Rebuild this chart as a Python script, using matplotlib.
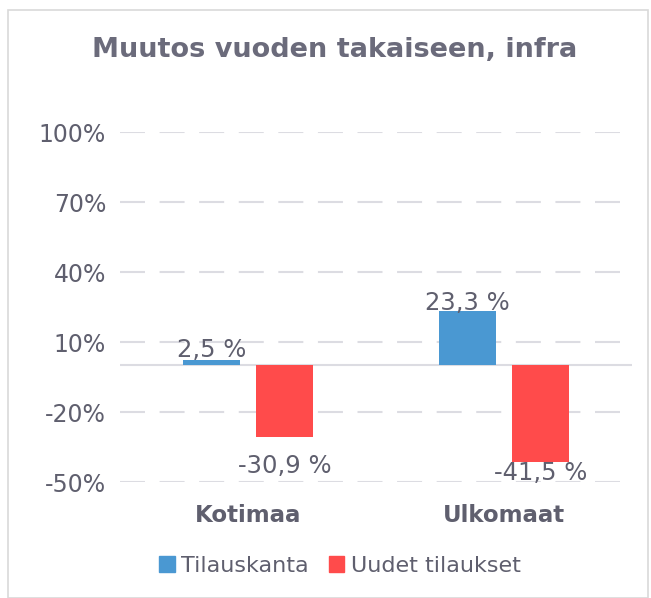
import matplotlib
matplotlib.use("Agg")
import matplotlib.pyplot as plt
from matplotlib.patches import Rectangle, Patch
import numpy as np

categories = ["Kotimaa", "Ulkomaat"]
series_names = ["Tilauskanta", "Uudet tilaukset"]
tilauskanta = [2.5, 23.3]
uudet = [-30.9, -41.5]
value_labels = [["2,5 %", "23,3 %"], ["-30,9 %", "-41,5 %"]]
yticks = [-50, -20, 10, 40, 70, 100]
ytick_labels = ["-50%", "-20%", "10%", "40%", "70%", "100%"]

colors = ["#4a98d2", "#ff4b4b"]
text_color = "#5f5f6e"
title_color = "#6b6b7b"
grid_color = "#dcdce2"

plt.rcParams['font.family'] = ['DejaVu Sans']

fig = plt.figure(figsize=(6.51, 5.98), dpi=100)
fig.patches.append(Rectangle((8/651, 0), 640/651, 1 - 10/598, transform=fig.transFigure,
                             fill=False, edgecolor="#d9d9d9", linewidth=1.2))

ax = fig.add_axes([120/651, 1 - 482/598, 512/651, 350/598])
x = np.arange(len(categories))
width = 0.223
offset = 0.143
series = [tilauskanta, uudet]
# label offsets in pixels (positive = up)
label_offsets = [[9, 8], [-29, -11]]
for i, vals in enumerate(series):
    pos = x + (-offset if i == 0 else offset)
    ax.bar(pos, vals, width=width, color=colors[i], zorder=3)
    for j, v in enumerate(vals):
        ax.annotate(value_labels[i][j], xy=(pos[j], v), xytext=(0, label_offsets[i][j] * 0.72),
                    textcoords="offset points", ha="center", va="center",
                    fontsize=17.5, color=text_color, zorder=4)

ax.set_xlim(-0.5, 1.5)
ax.set_ylim(-50, 100)
ax.set_yticks(yticks)
ax.set_yticklabels(ytick_labels, fontsize=17, color=text_color)
for t in yticks:
    ax.axhline(t, color=grid_color, linewidth=1.5, linestyle=(0, (12, 7)), zorder=1)
ax.axhline(0, color=grid_color, linewidth=1.5, zorder=2)
ax.set_xticks(x)
ax.set_xticklabels(categories, fontsize=16.5, fontweight="bold", color=text_color)
ax.tick_params(axis="both", length=0)
ax.tick_params(axis="x", pad=16)
ax.tick_params(axis="y", pad=10)
for s in ax.spines.values():
    s.set_visible(False)

fig.text(335/651, 1 - 50/598, "Muutos vuoden takaiseen, infra", ha="center", va="center",
         fontsize=19.5, fontweight="bold", color=title_color)

handles = [Patch(color=c) for c in colors]
fig.legend(handles, series_names, loc="center", bbox_to_anchor=(340/651, 1 - 566/598),
           ncol=2, frameon=False, fontsize=16, handlelength=0.7, handleheight=0.7,
           handletextpad=0.3, columnspacing=0.9, labelcolor=text_color)

fig.savefig("out.png", dpi=100)
